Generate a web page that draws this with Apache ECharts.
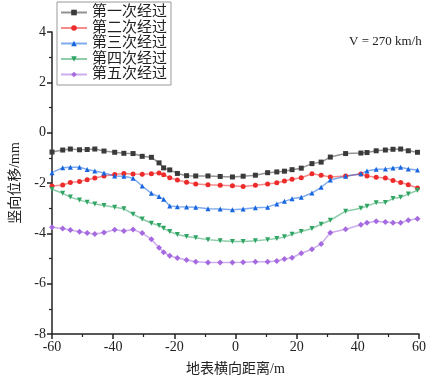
<!DOCTYPE html>
<html>
<head>
<meta charset="utf-8">
<script src="https://cdn.jsdelivr.net/npm/echarts@6/dist/echarts.min.js"></script>
<style>
  html, body {margin:0; padding:0; background:#fff;}
  #main {width:432px; height:382px;}
</style>
</head>
<body>
<div id="main"></div>
<script type="text/javascript">
  // 测点横向位置 (m)
  var xPos = [-60, -56.5, -54, -51, -48.5, -46, -43, -39.5, -36.5, -33.5, -30.5, -27.5, -25, -23.5, -21.5, -19, -16, -13, -9, -5, -1,
              2.5, 6.5, 10.5, 13.5, 16, 18.5, 21.5, 25, 28, 31, 36, 41, 43, 46, 49, 51.5, 54, 56.5, 59.5];

  var names = ['第一次经过', '第二次经过', '第三次经过', '第四次经过', '第五次经过'];

  var pass1 = [-0.77, -0.69, -0.65, -0.68, -0.67, -0.65, -0.73, -0.78, -0.82, -0.83, -0.94, -0.98, -1.2, -1.4, -1.48, -1.62, -1.71, -1.72, -1.72, -1.74, -1.76,
               -1.73, -1.69, -1.59, -1.56, -1.53, -1.47, -1.41, -1.23, -1.17, -0.97, -0.83, -0.81, -0.79, -0.72, -0.69, -0.66, -0.65, -0.72, -0.78];
  var pass2 = [-2.12, -2.08, -1.98, -1.94, -1.87, -1.80, -1.72, -1.66, -1.62, -1.64, -1.65, -1.63, -1.60, -1.67, -1.79, -1.88, -1.97, -2.04, -2.07, -2.09, -2.11,
               -2.14, -2.09, -2.04, -1.99, -1.92, -1.85, -1.79, -1.63, -1.69, -1.76, -1.72, -1.64, -1.72, -1.77, -1.80, -1.90, -1.98, -2.07, -2.20];
  var pass3 = [-1.59, -1.39, -1.37, -1.37, -1.46, -1.52, -1.60, -1.72, -1.73, -1.81, -2.12, -2.41, -2.54, -2.65, -2.91, -2.94, -2.95, -2.96, -3.02, -3.03, -3.06,
               -3.03, -2.98, -2.96, -2.83, -2.73, -2.63, -2.57, -2.40, -2.17, -1.88, -1.73, -1.63, -1.52, -1.45, -1.44, -1.40, -1.37, -1.44, -1.48];
  var pass4 = [-2.25, -2.41, -2.56, -2.68, -2.76, -2.83, -2.89, -2.96, -3.02, -3.24, -3.43, -3.60, -3.69, -3.80, -3.93, -4.05, -4.13, -4.18, -4.25, -4.29, -4.32,
               -4.32, -4.29, -4.25, -4.21, -4.14, -4.04, -3.93, -3.81, -3.64, -3.48, -3.12, -3.00, -2.92, -2.78, -2.77, -2.62, -2.57, -2.44, -2.29];
  var pass5 = [-3.76, -3.81, -3.87, -3.94, -3.99, -4.03, -3.97, -3.86, -3.91, -3.85, -3.99, -4.24, -4.57, -4.75, -4.89, -4.98, -5.06, -5.13, -5.16, -5.16, -5.16,
               -5.15, -5.13, -5.13, -5.10, -5.02, -4.97, -4.79, -4.63, -4.42, -3.98, -3.84, -3.66, -3.58, -3.52, -3.55, -3.58, -3.58, -3.48, -3.42];

  var passData = [pass1, pass2, pass3, pass4, pass5];
  var colors = ['#3a3a3a', '#ee2b2b', '#1766e0', '#2fa463', '#a66ae0'];
  var symbols = ['rect', 'circle', 'triangle', 'path://M0,0 L10,0 L5,9 Z', 'diamond'];

  var serif = '"Liberation Serif", "Times New Roman", "Noto Sans CJK SC", serif';

  function pairs(ys) {
    var out = [];
    for (var i = 0; i < xPos.length; i++) out.push([xPos[i], ys[i]]);
    return out;
  }

  var series = [];
  for (var k = 0; k < names.length; k++) {
    series.push({
      name: names[k],
      type: 'line',
      data: pairs(passData[k]),
      symbol: symbols[k],
      symbolSize: k == 4 ? 6 : 5,
      showAllSymbol: true,
      itemStyle: {color: colors[k]},
      lineStyle: {color: colors[k], width: 1.5, opacity: 0.55},
      emphasis: {disabled: true}
    });
  }

  var chart = echarts.init(document.getElementById('main'));
  chart.setOption({
    animation: false,
    grid: {left: 45, right: 13, top: 32, bottom: 48},
    legend: {
      orient: 'vertical',
      left: 57, top: 2,
      itemWidth: 26, itemHeight: 7, itemGap: 0.5,
      padding: [3, 4, 3, 3],
      borderColor: '#999', borderWidth: 1,
      textStyle: {fontFamily: serif, fontSize: 15, lineHeight: 14, color: '#222'},
      data: names
    },
    xAxis: {
      type: 'value', min: -60, max: 60, interval: 20,
      name: '地表横向距离/m', nameLocation: 'middle', nameGap: 28,
      nameTextStyle: {fontFamily: serif, fontSize: 14, color: '#222'},
      axisLine: {onZero: false, lineStyle: {color: '#222', width: 1.5}},
      axisTick: {inside: false, length: 5, lineStyle: {color: '#222', width: 1.5}},
      minorTick: {show: true, splitNumber: 2, length: 3, lineStyle: {color: '#222', width: 1.2}},
      axisLabel: {fontFamily: serif, fontSize: 14, color: '#222', margin: 6},
      splitLine: {show: false}
    },
    yAxis: {
      type: 'value', min: -8, max: 4, interval: 2,
      name: '竖向位移/mm', nameLocation: 'middle', nameGap: 30,
      nameTextStyle: {fontFamily: serif, fontSize: 14, color: '#222'},
      axisLine: {onZero: false, lineStyle: {color: '#222', width: 1.5}},
      axisTick: {inside: false, length: 5, lineStyle: {color: '#222', width: 1.5}},
      minorTick: {show: true, splitNumber: 2, length: 3, lineStyle: {color: '#222', width: 1.2}},
      axisLabel: {fontFamily: serif, fontSize: 14, color: '#222', margin: 6},
      splitLine: {show: false}
    },
    graphic: [{
      type: 'text', left: 349, top: 35,
      style: {text: 'V = 270 km/h', fontFamily: serif, fontSize: 13, fill: '#222'}
    }],
    series: series
  });
</script>
</body>
</html>
